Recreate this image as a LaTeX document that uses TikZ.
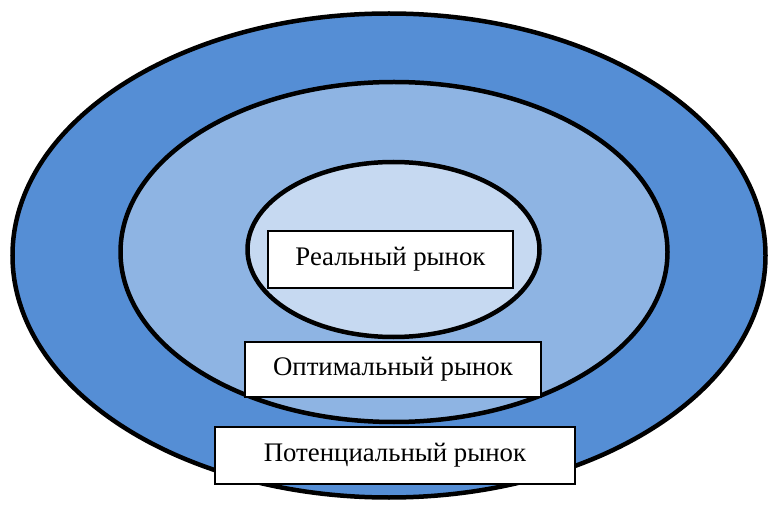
\documentclass[tikz,border=0pt]{standalone}
\usepackage{fontspec}
\setmainfont{Liberation Serif}
\definecolor{ringouter}{HTML}{558ED5}
\definecolor{ringmid}{HTML}{8EB4E3}
\definecolor{ringinner}{HTML}{C6D9F1}
\tikzset{
  ring/.style={draw=black, line width=4.5pt},
  label box/.style={draw=black, line width=1.4pt, fill=white, inner sep=0pt,
    font=\fontsize{26.8}{32}\selectfont}
}
\begin{document}
\begin{tikzpicture}[x=1pt, y=-1pt]
\useasboundingbox (0,0) rectangle (769,505);
\fill[white] (0,0) rectangle (769,505);
\draw[ring, fill=ringouter] (389,255.5) ellipse [x radius=376.5, y radius=242];
\draw[ring, fill=ringmid] (394,252) ellipse [x radius=273.5, y radius=170];
\draw[ring, fill=ringinner] (393.5,249.5) ellipse [x radius=146, y radius=87.5];
\node[label box, minimum width=245pt, minimum height=57pt] (real) at (390.5,259.5) {Реальный рынок};
\node[label box, minimum width=296pt, minimum height=55pt] (opt) at (393,369.5) {Оптимальный рынок};
\node[label box, minimum width=360pt, minimum height=57pt] (pot) at (395,455.5) {Потенциальный рынок};
\end{tikzpicture}
\end{document}
